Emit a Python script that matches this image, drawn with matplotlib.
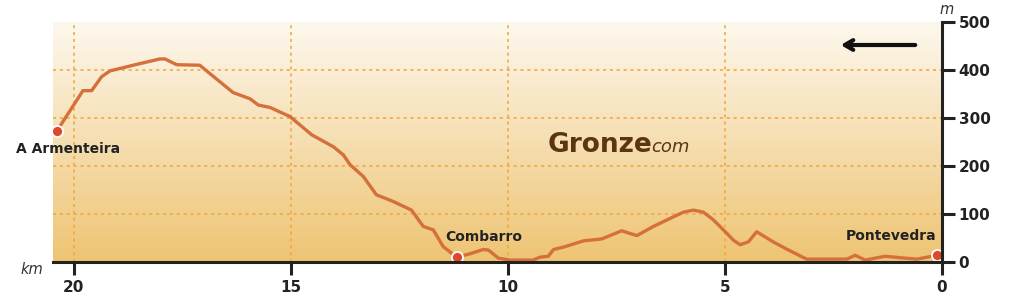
import numpy as np
import matplotlib
matplotlib.use("Agg")
import matplotlib.pyplot as plt
from matplotlib.colors import LinearSegmentedColormap

# Profile data (km from Pontevedra, elevation m)
km = [20.39, 19.79, 19.59, 19.36, 19.17, 18.63, 18.02, 17.90, 17.63, 17.10, 16.71,
      16.33, 15.94, 15.75, 15.48, 15.02, 14.52, 14.02, 13.79, 13.64, 13.33, 13.03,
      12.64, 12.22, 11.95, 11.72, 11.49, 11.18, 10.88, 10.57, 10.45, 10.22, 9.95,
      9.42, 9.26, 9.07, 8.95, 8.72, 8.26, 7.84, 7.38, 7.03, 6.65, 6.19, 5.95, 5.73,
      5.50, 5.27, 4.96, 4.80, 4.65, 4.46, 4.27, 3.89, 3.58, 3.12, 2.19, 2.00, 1.77,
      1.31, 0.97, 0.58, 0.12]
elev = [273, 357, 357, 386, 398, 410, 423, 423, 411, 410, 381,
        353, 340, 327, 322, 303, 265, 240, 223, 203, 178, 140,
        126, 108, 74, 67, 32, 10, 17, 26, 25, 8, 4,
        4, 10, 12, 26, 31, 44, 48, 65, 55, 74, 94, 104, 108,
        104, 88, 60, 45, 36, 42, 63, 42, 27, 6, 6, 14, 4,
        12, 9, 6, 14]

places = ["A Armenteira", "Combarro", "Pontevedra"]
place_km = [20.39, 11.18, 0.12]
place_elev = [273, 10, 14]

xticks = [0, 5, 10, 15, 20]
yticks = [0, 100, 200, 300, 400, 500]

fig = plt.figure(figsize=(10.24, 3.02), dpi=100)
ax = fig.add_axes([53/1024, 40/302, (942-53)/1024, 240/302])

xmin, xmax = 20.48, 0
cmap = LinearSegmentedColormap.from_list("bg", ["#eec473", "#fdf8ee"])
grad = np.linspace(0, 1, 256).reshape(-1, 1)
ax.imshow(grad, cmap=cmap, origin="lower", aspect="auto",
          extent=[xmin, xmax, 0, 500], zorder=0)

for y in [100, 200, 300, 400]:
    ax.axhline(y, color="#f0a53a", lw=1.1, ls=(0, (2, 2.5)), zorder=1)
for x in [5, 10, 15, 20]:
    ax.axvline(x, color="#f0a53a", lw=1.1, ls=(0, (2, 2.5)), zorder=1)

ax.plot(km, elev, color="#d6703a", lw=2.4, solid_joinstyle="round",
        solid_capstyle="round", zorder=3)
ax.plot(place_km, place_elev, "o", color="#dd4a2a", markeredgecolor="white",
        markeredgewidth=1.3, markersize=8, zorder=4)

ax.set_xlim(xmin, xmax)
ax.set_ylim(0, 500)

for s in ["left", "top"]:
    ax.spines[s].set_visible(False)
for s in ["bottom", "right"]:
    ax.spines[s].set_color("#222222")
    ax.spines[s].set_linewidth(2.2)
    ax.spines[s].set_zorder(5)

ax.yaxis.tick_right()
ax.set_xticks(xticks)
ax.set_yticks(yticks)
ax.set_xticklabels([str(v) for v in xticks])
ax.set_yticklabels([str(v) for v in yticks])
ax.tick_params(axis="x", direction="out", length=9, width=2.2, color="#222222",
               labelsize=11, labelcolor="#222222", pad=4)
ax.tick_params(axis="y", direction="out", length=9.5, width=2.2, color="#222222",
               labelsize=11, labelcolor="#222222", pad=2.5)
for lab in ax.get_xticklabels() + ax.get_yticklabels():
    lab.set_fontweight("bold")

fig.text(20/1024, 1 - 270/302, "km", style="italic", fontsize=10.5,
         color="#333333", ha="left", va="center")
fig.text(947/1024, 1 - 10/302, "m", style="italic", fontsize=10.5,
         color="#333333", ha="center", va="center")

ax.annotate("A Armenteira", xy=(20.39, 273), xytext=(-41, -18),
            textcoords="offset pixels", ha="left", va="center",
            fontsize=10, fontweight="bold", color="#222222", zorder=6,
            annotation_clip=False)
ax.annotate("Combarro", xy=(11.18, 10), xytext=(27, 20),
            textcoords="offset pixels", ha="center", va="center",
            fontsize=10, fontweight="bold", color="#222222", zorder=6)
ax.annotate("Pontevedra", xy=(0.12, 14), xytext=(0, 19),
            textcoords="offset pixels", ha="right", va="center",
            fontsize=10, fontweight="bold", color="#222222", zorder=6)

# watermark
fig.text(548/1024, 1 - 152/302, "Gronze", fontsize=19, fontweight="bold",
         color="#5a3510", ha="left", va="baseline")
fig.text(651/1024, 1 - 152/302, "com", fontsize=13, style="italic",
         color="#5a3510", ha="left", va="baseline")

# direction arrow
ax.annotate("", xy=(838/1024, 1 - 45/302), xytext=(918/1024, 1 - 45/302),
            xycoords="figure fraction", textcoords="figure fraction",
            arrowprops=dict(arrowstyle="->,head_length=0.6,head_width=0.35",
                            color="#111111", lw=3))

fig.savefig("out.png", dpi=100)
